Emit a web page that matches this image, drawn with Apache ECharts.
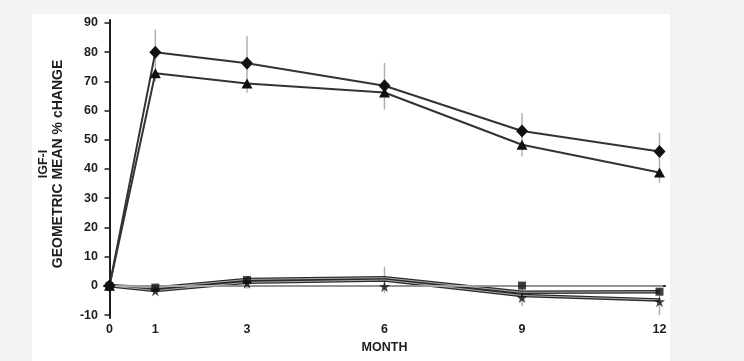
<!DOCTYPE html>
<html>
<head>
<meta charset="utf-8">
<script src="https://cdn.jsdelivr.net/npm/echarts@6/dist/echarts.min.js"></script>
<style>
html,body{margin:0;padding:0;background:#f3f3f3;}
#c{width:744px;height:361px;}
</style>
</head>
<body>
<div id="c"></div>
<script>
// ---- data ----
var months = [0, 1, 3, 6, 9, 12];
var xTickLabels = [0, 1, 3, 6, 9, 12];
var yTickLabels = [-10, 0, 10, 20, 30, 40, 50, 60, 70, 80, 90];
var yTitleLines = ['IGF-I', 'GEOMETRIC MEAN % cHANGE'];

var diamondSeries = [0, 80, 76.2, 68.5, 53.0, 46.0];
var triangleSeries = [0, 72.8, 69.3, 66.2, 48.3, 38.8];

var lowerLineA = [0, -0.7, 2.2, 2.8, -2.2, -2.0];
var lowerLineB = [0, -1.6, 1.2, 2.0, -3.3, -4.8];
var squareMarks = [0, -0.6, 2.0, null, 0.1, -2.0];
var starMarks = [0, -1.7, 0.9, -0.2, -4.0, -5.4];

var errMonths = [1, 3, 6, 9, 12, 3, 6, 9, 12];
var errLow = [70, 66.1, 60.3, 44.3, 35.3, -1, -2.5, -7, -10];
var errHigh = [87.7, 85.4, 76.3, 59.2, 52.4, 3.5, 6.6, 1, -0.7];

function pairs(xs, ys) {
  var out = [];
  for (var i = 0; i < xs.length; i++) out.push([xs[i], ys[i]]);
  return out;
}
var errData = [];
for (var i = 0; i < errMonths.length; i++) errData.push([errMonths[i], errLow[i], errHigh[i]]);

var starPath = 'path://M50,0 L61,35 L98,35 L68,57 L79,91 L50,70 L21,91 L32,57 L2,35 L39,35 Z';
var dark = '#1e1e1e';
var lineDark = '#333';
var fontFam = '"Liberation Sans", Arial, sans-serif';

var chart = echarts.init(document.getElementById('c'), null, {renderer: 'canvas'});
chart.setOption({
  animation: false,
  backgroundColor: '#f3f3f3',
  graphic: [{
    type: 'rect', z: -10, silent: true,
    shape: {x: 32, y: 14, width: 638, height: 347},
    style: {fill: '#ffffff'}
  }, {
    type: 'text', x: 44, y: 164, rotation: Math.PI / 2, silent: true,
    style: {text: yTitleLines[0], font: 'bold 12.5px ' + fontFam, fill: dark,
      align: 'center', verticalAlign: 'middle'}
  }, {
    type: 'text', x: 58, y: 164, rotation: Math.PI / 2, silent: true,
    style: {text: yTitleLines[1], font: 'bold 14px ' + fontFam, fill: dark,
      align: 'center', verticalAlign: 'middle'}
  }],
  grid: {left: 104, right: 79, top: 20, bottom: 43},
  xAxis: {
    type: 'value', min: -0.12, max: 12.12,
    splitLine: {show: false},
    axisLine: {lineStyle: {color: dark, width: 2}},
    axisTick: {show: false},
    axisLabel: {
      customValues: xTickLabels, color: dark, fontWeight: 'bold',
      fontSize: 12.5, fontFamily: fontFam, margin: 5
    },
    name: 'MONTH', nameLocation: 'middle', nameGap: 21,
    nameTextStyle: {color: dark, fontWeight: 'bold', fontSize: 12.5, fontFamily: fontFam}
  },
  yAxis: {
    type: 'value', min: -11, max: 91,
    splitLine: {show: false},
    axisLine: {show: true, lineStyle: {color: dark, width: 2}},
    axisTick: {show: true, customValues: yTickLabels, length: 5, lineStyle: {color: dark, width: 1.5}},
    axisLabel: {
      customValues: yTickLabels, color: dark, fontWeight: 'bold',
      fontSize: 12.5, fontFamily: fontFam, margin: 6
    }
  },
  series: [
    {
      type: 'custom', z: 1, silent: true,
      data: errData,
      renderItem: function (params, api) {
        var p1 = api.coord([api.value(0), api.value(1)]);
        var p2 = api.coord([api.value(0), api.value(2)]);
        return {
          type: 'line',
          shape: {x1: p1[0], y1: p1[1], x2: p2[0], y2: p2[1]},
          style: {stroke: '#b0b0b0', lineWidth: 1.5}
        };
      }
    },
    {
      type: 'line', z: 1, silent: true, data: [],
      markLine: {
        silent: true, symbol: 'none', label: {show: false},
        lineStyle: {color: '#bdbdbd', width: 1.5, type: 'solid'},
        data: [[{coord: [0.05, 0]}, {coord: [12.08, 0]}]]
      }
    },
    {
      type: 'line', z: 3, data: pairs(months, lowerLineA), symbol: 'none',
      lineStyle: {color: '#2a2a2a', width: 3.5}
    },
    {
      type: 'line', z: 4, data: pairs(months, lowerLineA), symbol: 'none',
      lineStyle: {color: '#a8a8a8', width: 1}
    },
    {
      type: 'line', z: 3, data: pairs(months, lowerLineB), symbol: 'none',
      lineStyle: {color: '#2a2a2a', width: 3.5}
    },
    {
      type: 'line', z: 4, data: pairs(months, lowerLineB), symbol: 'none',
      lineStyle: {color: '#a8a8a8', width: 1}
    },
    {
      type: 'scatter', z: 5, data: pairs(months, squareMarks), symbol: 'rect', symbolSize: 8,
      itemStyle: {color: '#111'}
    },
    {
      type: 'scatter', z: 5, data: pairs(months, starMarks), symbol: starPath, symbolSize: 11,
      itemStyle: {color: '#111'}
    },
    {
      type: 'line', z: 6, data: pairs(months, triangleSeries), symbol: 'triangle', symbolSize: [11, 10],
      lineStyle: {color: lineDark, width: 2}, itemStyle: {color: '#111'}
    },
    {
      type: 'line', z: 6, data: pairs(months, diamondSeries), symbol: 'diamond', symbolSize: [12, 13],
      lineStyle: {color: lineDark, width: 2}, itemStyle: {color: '#111'}
    }
  ]
});
</script>
</body>
</html>
